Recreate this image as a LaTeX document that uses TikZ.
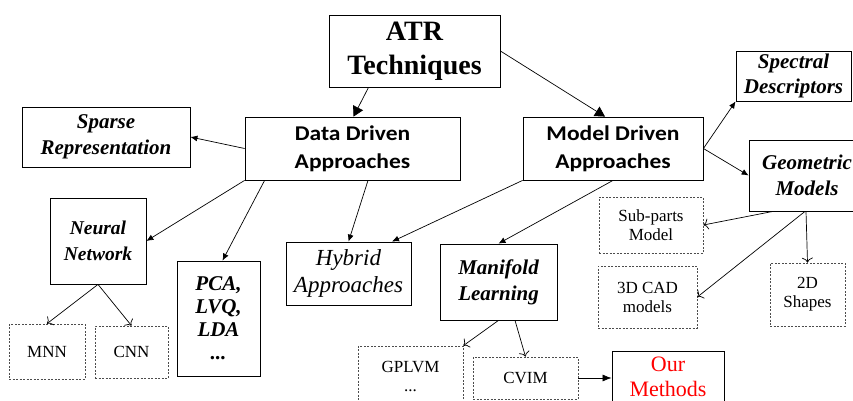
\documentclass[tikz,border=0pt]{standalone}
\usepackage{fontspec}
\setmainfont{Liberation Serif}
\newfontfamily\calibrifont{Carlito}[FakeStretch=1.12]
\usetikzlibrary{arrows.meta}

\begin{document}
\begin{tikzpicture}[x=1pt, y=-1pt,
  solidbox/.style={draw=black, line width=0.8pt, align=center, inner sep=0pt},
  dashbox/.style={draw=black!70, line width=0.7pt, dash pattern=on 2pt off 1.5pt, align=center, inner sep=0pt, font=\fontsize{17}{19}\selectfont},
  boldit/.style={font=\fontsize{21}{26}\selectfont\bfseries\itshape},
  bigarrow/.style={-{Triangle[length=10pt, width=11pt]}, line width=0.7pt},
  solidarrow/.style={-{Latex[length=7pt, width=6pt]}, line width=0.7pt},
  openarrow/.style={-{To[length=5pt, width=11pt]}, line width=0.7pt}]
\useasboundingbox (0, 0) rectangle (853, 401);

\node[solidbox, minimum width=171, minimum height=72, font=\fontsize{28}{34}\selectfont\bfseries] (atr) at (414.5, 51) {ATR\\Techniques};
\node[solidbox, boldit, minimum width=168, minimum height=60] (sparse) at (106, 137) {Sparse\\Representation};
\node[solidbox, minimum width=215, minimum height=63, font=\calibrifont\fontsize{21}{28}\selectfont\bfseries] (data) at (352.5, 148.5) {Data Driven\\Approaches};
\node[solidbox, minimum width=180, minimum height=63, font=\calibrifont\fontsize{21}{28}\selectfont\bfseries] (model) at (613, 148.5) {Model Driven\\Approaches};
\node[solidbox, minimum width=115, minimum height=50, font=\fontsize{21}{25}\selectfont\bfseries\itshape] (spectral) at (793.5, 76) {Spectral\\Descriptors};
\node[solidbox, boldit, minimum width=116, minimum height=71] (geometric) at (807, 175.5) {Geometric\\Models};
\node[solidbox, minimum width=96, minimum height=86, font=\fontsize{19.5}{26}\selectfont\bfseries\itshape] (nn) at (98, 241) {Neural\\Network};
\node[solidbox, minimum width=83, minimum height=115, font=\fontsize{21}{23}\selectfont\bfseries\itshape] (pca) at (218.5, 318.5) {PCA,\\LVQ,\\LDA\\...};
\node[solidbox, minimum width=125, minimum height=63, font=\fontsize{23}{27}\selectfont\itshape] (hybrid) at (348.5, 273.5) {Hybrid\\Approaches};
\node[solidbox, boldit, minimum width=117, minimum height=76] (manifold) at (498.5, 282) {Manifold\\Learning};

% dashed leaves
\node[dashbox, minimum width=76, minimum height=55] (mnn) at (47, 351.5) {MNN};
\node[dashbox, minimum width=73, minimum height=52] (cnn) at (131.5, 352) {CNN};
\node[dashbox, minimum width=104, minimum height=56] (subparts) at (651, 225) {Sub-parts\\Model};
\node[dashbox, minimum width=99, minimum height=62] (cad) at (647.5, 297) {3D CAD\\models};
\node[dashbox, minimum width=75, minimum height=63] (shapes) at (807.5, 294.5) {2D\\Shapes};
\node[dashbox, minimum width=105, minimum height=60] (gplvm) at (410.5, 376) {GPLVM\\...};
\node[dashbox, minimum width=105, minimum height=42] (cvim) at (525.5, 378) {CVIM};
\node[solidbox, minimum width=112, minimum height=52, text=red, font=\fontsize{22}{25}\selectfont] (ours) at (668, 377) {Our\\Methods};

\draw[bigarrow] ([xshift=-46]atr.south) -- ([xshift=1]data.north);
\draw[bigarrow] (atr.east) -- ([xshift=-8]model.north);
\draw[solidarrow] (data.west) -- (sparse.east);
\draw[solidarrow] (data.south west) -- (nn.east);
\draw[solidarrow] ([xshift=20]data.south west) -- ([xshift=4]pca.north);
\draw[solidarrow] ([xshift=15.5]data.south) -- (hybrid.north);
\draw[solidarrow] (model.south west) -- ([xshift=43.5]hybrid.north);
\draw[solidarrow] (model.south) -- (manifold.north);
\draw[solidarrow] (model.east) -- (spectral.south west);
\draw[solidarrow] (model.east) -- (geometric.west);
\draw[openarrow] ([xshift=-34]geometric.south) -- (subparts.east);
\draw[openarrow] ([xshift=-2]geometric.south) -- (cad.east);
\draw[openarrow] ([xshift=-1]geometric.south) -- (shapes.north);
\draw[openarrow] (nn.south) -- (mnn.north);
\draw[openarrow] (nn.south) -- (cnn.north);
\draw[openarrow] (manifold.south) -- (gplvm.north east);
\draw[openarrow] ([xshift=16.5]manifold.south) -- (cvim.north);
\draw[solidarrow, -{Latex[length=9pt, width=7pt]}] (cvim.east) -- (cvim.east -| ours.west);

\end{tikzpicture}
\end{document}
